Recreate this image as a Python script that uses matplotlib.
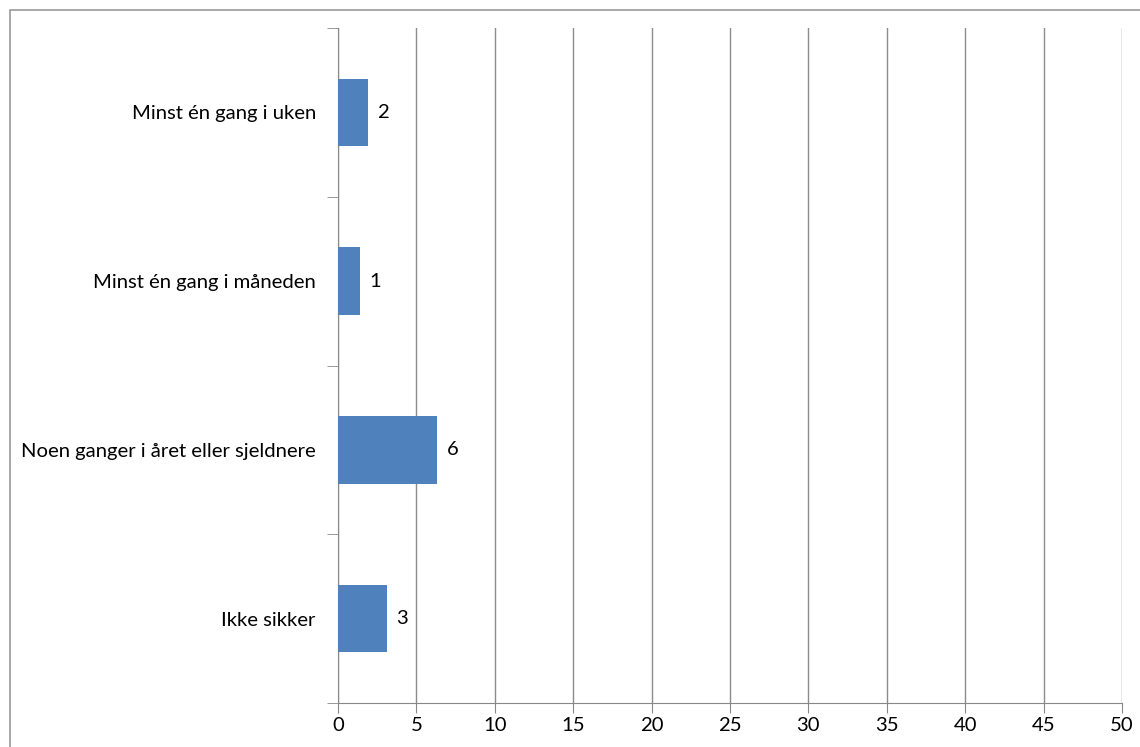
import matplotlib
matplotlib.use('Agg')
from matplotlib import pyplot as plt
from matplotlib.patches import Rectangle
import numpy as np

categories = ['Minst én gang i uken', 'Minst én gang i måneden',
              'Noen ganger i året eller sjeldnere', 'Ikke sikker']
values = [1.9, 1.4, 6.3, 3.1]
x_ticks = list(range(0, 55, 5))

plt.rcParams['font.family'] = ['Lato', 'DejaVu Sans']
plt.rcParams['font.size'] = 14.6

fig = plt.figure(figsize=(11.4, 7.47), dpi=100)
ax = fig.add_axes([338 / 1140, 1 - 703 / 747, (1122 - 338) / 1140, (703 - 28) / 747])

# chart area border, cut off at right and bottom like the screenshot
fig.patches.append(Rectangle((10 / 1140, -0.1), 1.2, 1 - 10 / 747 + 0.1,
                             transform=fig.transFigure, fill=False,
                             edgecolor='#9a9a9a', linewidth=1.2))

pos = np.arange(len(categories))
bars = ax.barh(pos, values, height=0.4, color='#4F81BD', zorder=3)
ax.bar_label(bars, labels=[f'{v:.0f}' for v in values], padding=7)

ax.set_xlim(0, 50)
ax.set_ylim(len(categories) - 0.5, -0.5)
ax.set_xticks(x_ticks)
ax.set_yticks(pos)
ax.set_yticklabels(categories)
ax.set_yticks(np.arange(-0.5, len(categories)), minor=True)
ax.tick_params(axis='y', which='major', length=0, pad=16)
ax.tick_params(axis='y', which='minor', length=8, color='#888888')
ax.tick_params(axis='x', length=7, color='#888888', pad=3)

ax.grid(axis='x', color='#8c8c8c', linewidth=1, zorder=0)
for side in ['top', 'right']:
    ax.spines[side].set_visible(False)
for side in ['left', 'bottom']:
    ax.spines[side].set_color('#888888')

fig.savefig('out.png', dpi=100)
